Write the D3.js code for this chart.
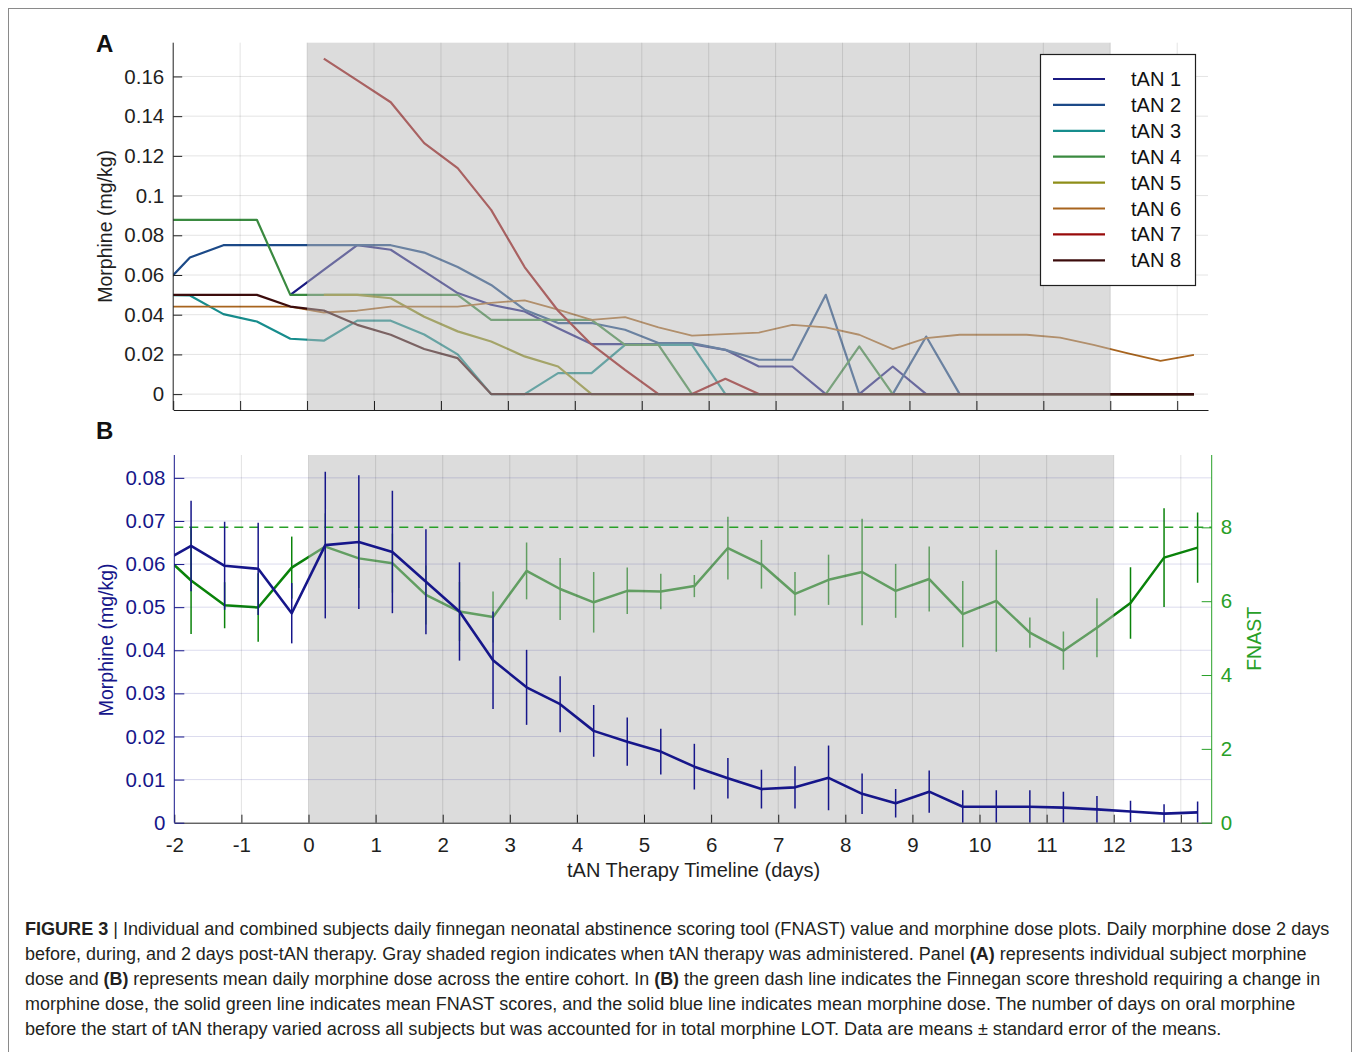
<!DOCTYPE html>
<html>
<head>
<meta charset="utf-8">
<script src="https://cdn.jsdelivr.net/npm/d3@7"></script>
<style>
  body { margin: 0; background: #fff; }
  svg { display: block; font-family: 'Liberation Sans', Arial, Helvetica, sans-serif; }
</style>
</head>
<body>
<script>
// half-day sample points (first one sits left of the axis and gets clipped)
const days = [-2.25, -1.75, -1.25, -0.75, -0.25, 0.25, 0.75, 1.25, 1.75, 2.25, 2.75, 3.25,
  3.75, 4.25, 4.75, 5.25, 5.75, 6.25, 6.75, 7.25, 7.75, 8.25, 8.75, 9.25, 9.75, 10.25,
  10.75, 11.25, 11.75, 12.25, 12.75, 13.25];
const dayTicks = [-2, -1, 0, 1, 2, 3, 4, 5, 6, 7, 8, 9, 10, 11, 12, 13];
const dayTickLabels = ['-2', '-1', '0', '1', '2', '3', '4', '5', '6', '7', '8', '9', '10', '11', '12', '13'];
const therapyStart = 0;
const therapyEnd = 12;

// panel A: individual subjects, morphine (mg/kg)
const subjects = ['tAN 1', 'tAN 2', 'tAN 3', 'tAN 4', 'tAN 5', 'tAN 6', 'tAN 7', 'tAN 8'];
const tan1 = [null, null, null, null, 0.050, 0.0626, 0.075, 0.0727, 0.0618, 0.0509, 0.045, 0.0416,
  0.0332, 0.0252, 0.0252, 0.0252, 0.0252, 0.0223, 0.0139, 0.0139, 0, 0, 0.0139, 0,
  0, 0, 0, 0, 0, 0, 0, 0];
const tan2 = [0.051, 0.0688, 0.075, 0.075, 0.075, 0.075, 0.075, 0.075, 0.0713, 0.064, 0.055, 0.0425,
  0.0358, 0.0358, 0.0324, 0.0257, 0.0257, 0.0223, 0.0173, 0.0173, 0.050, 0, 0, 0.029,
  0, 0, 0, 0, 0, 0, 0, 0];
const tan3 = [0.050, 0.0497, 0.0403, 0.0366, 0.0279, 0.0269, 0.037, 0.037, 0.030, 0.020, 0, 0,
  0.0106, 0.0106, 0.0248, 0.0248, 0.0248, 0, 0, 0, 0, 0, 0, 0,
  0, 0, 0, 0, 0, 0, 0, 0];
const tan4 = [0.0878, 0.0878, 0.0878, 0.0878, 0.050, 0.050, 0.050, 0.050, 0.050, 0.050, 0.0374, 0.0374,
  0.0374, 0.0374, 0.0248, 0.0248, 0, 0, 0, 0, 0, 0.024, 0, 0,
  0, 0, 0, 0, 0, 0, 0, 0];
const tan5 = [null, null, null, null, null, 0.050, 0.050, 0.0483, 0.039, 0.0316, 0.0265, 0.019,
  0.0139, 0, 0, 0, 0, 0, 0, 0, 0, 0, 0, 0,
  0, 0, 0, 0, 0, 0, 0, 0];
const tan6 = [0.0441, 0.0441, 0.0441, 0.0441, 0.0441, 0.0411, 0.042, 0.0441, 0.0441, 0.0441, 0.046, 0.0472,
  0.0425, 0.0374, 0.0388, 0.0336, 0.0295, 0.0302, 0.031, 0.0349, 0.0336, 0.0299, 0.0227, 0.0282,
  0.0299, 0.0299, 0.0299, 0.0285, 0.0248, 0.0207, 0.0168, 0.0198];
const tan7 = [null, null, null, null, null, 0.169, 0.158, 0.147, 0.1264, 0.1138, 0.0928, 0.064,
  0.042, 0.025, 0.0122, 0, 0, 0.0077, 0, 0, 0, 0, 0, 0,
  0, 0, 0, 0, 0, 0, 0, 0];
const tan8 = [0.050, 0.050, 0.050, 0.050, 0.0441, 0.0421, 0.0349, 0.0299, 0.0227, 0.0181, 0, 0,
  0, 0, 0, 0, 0, 0, 0, 0, 0, 0, 0, 0,
  0, 0, 0, 0, 0, 0, 0, 0];
const doseTicksA = [0, 0.02, 0.04, 0.06, 0.08, 0.1, 0.12, 0.14, 0.16];
const doseTickLabelsA = ['0', '0.02', '0.04', '0.06', '0.08', '0.1', '0.12', '0.14', '0.16'];

// panel B: cohort means +/- SEM
const meanDose = [0.0598, 0.0642, 0.0596, 0.0589, 0.0486, 0.0644, 0.0651, 0.0628, 0.0559, 0.049, 0.0377, 0.0314,
  0.0275, 0.0213, 0.0188, 0.0165, 0.013, 0.0103, 0.0078, 0.0082, 0.0104, 0.0067, 0.0045, 0.0072,
  0.0037, 0.0037, 0.0037, 0.0035, 0.0031, 0.0026, 0.0021, 0.0024];
const doseErr = [0.010, 0.0105, 0.0102, 0.0107, 0.007, 0.017, 0.0155, 0.0142, 0.0122, 0.0114, 0.0113, 0.0087,
  0.0065, 0.006, 0.0056, 0.0053, 0.0053, 0.0047, 0.0045, 0.0049, 0.0075, 0.0047, 0.0033, 0.0049,
  0.0038, 0.0038, 0.0038, 0.0037, 0.0031, 0.0025, 0.0022, 0.0025];
const meanFnast = [7.4, 6.56, 5.89, 5.83, 6.91, 7.48, 7.16, 7.03, 6.17, 5.72, 5.57, 6.82,
  6.33, 5.97, 6.28, 6.26, 6.41, 7.44, 7.0, 6.2, 6.58, 6.79, 6.28, 6.6,
  5.65, 6.01, 5.15, 4.66, 5.28, 5.95, 7.18, 7.45];
const fnastErr = [1.0, 1.45, 0.62, 0.93, 0.84, 0.9, 0.8, 0.8, 0.8, 0.8, 0.69, 0.77,
  0.84, 0.82, 0.63, 0.48, 0.3, 0.85, 0.66, 0.59, 0.68, 1.44, 0.73, 0.88,
  0.9, 1.38, 0.41, 0.52, 0.8, 0.97, 1.34, 0.95];
const fnastThreshold = 8;
const doseTicksB = [0, 0.01, 0.02, 0.03, 0.04, 0.05, 0.06, 0.07, 0.08];
const doseTickLabelsB = ['0', '0.01', '0.02', '0.03', '0.04', '0.05', '0.06', '0.07', '0.08'];
const fnastTicks = [0, 2, 4, 6, 8];
const fnastTickLabels = ['0', '2', '4', '6', '8'];

const captionLines = [
  [['FIGURE 3', true], [' | Individual and combined subjects daily finnegan neonatal abstinence scoring tool (FNAST) value and morphine dose plots. Daily morphine dose 2 days', false]],
  [['before, during, and 2 days post-tAN therapy. Gray shaded region indicates when tAN therapy was administered. Panel ', false], ['(A)', true], [' represents individual subject morphine', false]],
  [['dose and ', false], ['(B)', true], [' represents mean daily morphine dose across the entire cohort. In ', false], ['(B)', true], [' the green dash line indicates the Finnegan score threshold requiring a change in', false]],
  [['morphine dose, the solid green line indicates mean FNAST scores, and the solid blue line indicates mean morphine dose. The number of days on oral morphine', false]],
  [['before the start of tAN therapy varied across all subjects but was accounted for in total morphine LOT. Data are means \u00b1 standard error of the means.', false]]
];
const captionEnds = [1331, 1307, 1321, 1296, 1222];

const seriesA = [tan1, tan2, tan3, tan4, tan5, tan6, tan7, tan8];
const colorsA = ['#1b1b82', '#1c4a88', '#178d8d', '#3a8a40', '#8e8e18', '#a8641e', '#980a0a', '#3c0c0c'];
const axisGray = '#1f1f1f';
const navy = '#16168a';
const green = '#0a830a';
const greenAxis = '#28a028';
const shade = '#b9b9b9';
const tickFont = 20.5;

const svg = d3.select('body').append('svg')
  .attr('width', 1354)
  .attr('height', 1052);

svg.append('rect').attr('width', 1354).attr('height', 1052).attr('fill', 'white');
svg.append('rect')
  .attr('x', 8.5).attr('y', 8.5)
  .attr('width', 1343).attr('height', 1060)
  .attr('fill', 'none').attr('stroke', '#8a8a8a').attr('stroke-width', 1);

const defs = svg.append('defs');

// ---------- Panel A ----------
const A = { left: 173.2, right: 1208, top: 42.7, bottom: 410 };
const xA = d3.scaleLinear().domain([-2, 13.46]).range([A.left, A.right]);
const yA = d3.scaleLinear().domain([-0.008, 0.177]).range([A.bottom, A.top]);

defs.append('clipPath').attr('id', 'clipA')
  .append('rect')
  .attr('x', A.left).attr('y', A.top)
  .attr('width', A.right - A.left).attr('height', A.bottom - A.top);

const gA = svg.append('g');

const lineA = d3.line()
  .defined(d => d[1] != null)
  .x(d => xA(d[0]))
  .y(d => yA(d[1]));

gA.append('g').attr('clip-path', 'url(#clipA)')
  .selectAll('path')
  .data(seriesA)
  .join('path')
  .attr('fill', 'none')
  .attr('stroke', (d, i) => colorsA[i])
  .attr('stroke-width', (d, i) => i === 5 ? 1.8 : 2.2)
  .attr('stroke-linejoin', 'round')
  .attr('d', s => lineA(days.map((d, j) => [d, s[j]])));

// shaded therapy window sits over the lines
gA.append('rect')
  .attr('x', xA(therapyStart))
  .attr('y', A.top)
  .attr('width', xA(therapyEnd) - xA(therapyStart))
  .attr('height', A.bottom - A.top)
  .attr('fill', shade)
  .attr('fill-opacity', 0.5);

// grid
gA.append('g')
  .selectAll('line')
  .data(dayTicks.slice(1))
  .join('line')
  .attr('x1', d => xA(d)).attr('x2', d => xA(d))
  .attr('y1', A.top).attr('y2', A.bottom)
  .attr('stroke', axisGray).attr('stroke-opacity', 0.12);
gA.append('g')
  .selectAll('line')
  .data(doseTicksA)
  .join('line')
  .attr('x1', A.left).attr('x2', A.right)
  .attr('y1', d => yA(d)).attr('y2', d => yA(d))
  .attr('stroke', axisGray).attr('stroke-opacity', 0.12);

function styleAxis(sel, color) {
  sel.attr('font-size', tickFont)
    .attr('font-family', "'Liberation Sans', Arial, Helvetica, sans-serif");
  sel.selectAll('path, line').attr('stroke', color);
  sel.selectAll('text').attr('fill', color);
}

gA.append('g')
  .attr('transform', `translate(${A.left},0)`)
  .call(d3.axisLeft(yA)
    .tickValues(doseTicksA)
    .tickFormat((d, i) => doseTickLabelsA[i])
    .tickSizeInner(-9)
    .tickSizeOuter(0)
    .tickPadding(9))
  .call(g => styleAxis(g, axisGray))
  .call(g => g.select('.domain').attr('d', `M0,${A.bottom}V${A.top}`));

gA.append('g')
  .attr('transform', `translate(0,${A.bottom})`)
  .call(d3.axisBottom(xA)
    .tickValues(dayTicks)
    .tickFormat('')
    .tickSizeInner(-9)
    .tickSizeOuter(0))
  .call(g => styleAxis(g, axisGray));

gA.append('text')
  .attr('transform', `translate(111.5,${(A.top + A.bottom) / 2})rotate(-90)`)
  .attr('text-anchor', 'middle')
  .attr('font-size', 19.5)
  .attr('fill', axisGray)
  .text('Morphine (mg/kg)');

svg.append('text')
  .attr('x', 96).attr('y', 52)
  .attr('font-size', 24).attr('font-weight', 'bold')
  .attr('fill', '#111')
  .text('A');

// legend
const legendBox = { x: 1040.5, y: 54.5, w: 155, h: 231 };
const legend = gA.append('g');
legend.append('rect')
  .attr('x', legendBox.x).attr('y', legendBox.y)
  .attr('width', legendBox.w).attr('height', legendBox.h)
  .attr('fill', 'white').attr('stroke', axisGray).attr('stroke-width', 1.2);
const legendRows = legend.selectAll('g.row')
  .data(subjects)
  .join('g')
  .attr('class', 'row')
  .attr('transform', (d, i) => `translate(0,${79 + i * 25.9})`);
legendRows.append('line')
  .attr('x1', 1053).attr('x2', 1105)
  .attr('stroke', (d, i) => colorsA[i])
  .attr('stroke-width', (d, i) => i === 5 ? 1.8 : 2.2);
legendRows.append('text')
  .attr('x', 1131).attr('y', 7)
  .attr('font-size', 20)
  .attr('fill', '#111')
  .text(d => d);

// ---------- Panel B ----------
const B = { left: 174.3, right: 1211.7, top: 455, bottom: 822.7 };
const xB = d3.scaleLinear().domain([-2, 13.46]).range([B.left, B.right]);
const yB = d3.scaleLinear().domain([0, 0.0853]).range([B.bottom, B.top]);
const yF = d3.scaleLinear().domain([0, 9.96]).range([B.bottom, B.top]);

defs.append('clipPath').attr('id', 'clipB')
  .append('rect')
  .attr('x', B.left).attr('y', B.top)
  .attr('width', B.right - B.left).attr('height', B.bottom - B.top);

const gB = svg.append('g');

const fnastPts = days.map((d, i) => ({ x: d, v: meanFnast[i], e: fnastErr[i] }));
const dosePts = days.map((d, i) => ({ x: d, v: meanDose[i], e: doseErr[i] }));

// FNAST mean (drawn under the shading)
const fnastLayer = gB.append('g').attr('clip-path', 'url(#clipB)');
fnastLayer.append('path')
  .datum(fnastPts)
  .attr('fill', 'none')
  .attr('stroke', green)
  .attr('stroke-width', 2.5)
  .attr('stroke-linejoin', 'round')
  .attr('d', d3.line().x(d => xB(d.x)).y(d => yF(d.v)));
fnastLayer.selectAll('line')
  .data(fnastPts)
  .join('line')
  .attr('x1', d => xB(d.x)).attr('x2', d => xB(d.x))
  .attr('y1', d => yF(d.v - d.e)).attr('y2', d => yF(d.v + d.e))
  .attr('stroke', green).attr('stroke-width', 1.5);

gB.append('rect')
  .attr('x', xB(therapyStart))
  .attr('y', B.top)
  .attr('width', xB(therapyEnd) - xB(therapyStart))
  .attr('height', B.bottom - B.top)
  .attr('fill', shade)
  .attr('fill-opacity', 0.5);

// grid
gB.append('g')
  .selectAll('line')
  .data(dayTicks.slice(1))
  .join('line')
  .attr('x1', d => xB(d)).attr('x2', d => xB(d))
  .attr('y1', B.top).attr('y2', B.bottom)
  .attr('stroke', axisGray).attr('stroke-opacity', 0.13);
gB.append('g')
  .selectAll('line')
  .data(doseTicksB.slice(1))
  .join('line')
  .attr('x1', B.left).attr('x2', B.right)
  .attr('y1', d => yB(d)).attr('y2', d => yB(d))
  .attr('stroke', navy).attr('stroke-opacity', 0.15);

// threshold
gB.append('line')
  .attr('x1', B.left).attr('x2', B.right)
  .attr('y1', yF(fnastThreshold)).attr('y2', yF(fnastThreshold))
  .attr('stroke', greenAxis)
  .attr('stroke-width', 1.5)
  .attr('stroke-dasharray', '9,6');

// morphine mean on top
const doseLayer = gB.append('g').attr('clip-path', 'url(#clipB)');
doseLayer.append('path')
  .datum(dosePts)
  .attr('fill', 'none')
  .attr('stroke', navy)
  .attr('stroke-width', 2.6)
  .attr('stroke-linejoin', 'round')
  .attr('d', d3.line().x(d => xB(d.x)).y(d => yB(d.v)));
doseLayer.selectAll('line')
  .data(dosePts)
  .join('line')
  .attr('x1', d => xB(d.x)).attr('x2', d => xB(d.x))
  .attr('y1', d => yB(Math.max(0, d.v - d.e))).attr('y2', d => yB(d.v + d.e))
  .attr('stroke', navy).attr('stroke-width', 1.5);

// axes
gB.append('g')
  .attr('transform', `translate(0,${B.bottom})`)
  .call(d3.axisBottom(xB)
    .tickValues(dayTicks)
    .tickFormat((d, i) => dayTickLabels[i])
    .tickSizeInner(-8)
    .tickSizeOuter(0)
    .tickPadding(15))
  .call(g => styleAxis(g, axisGray));

gB.append('g')
  .attr('transform', `translate(${B.left},0)`)
  .call(d3.axisLeft(yB)
    .tickValues(doseTicksB)
    .tickFormat((d, i) => doseTickLabelsB[i])
    .tickSizeInner(-10)
    .tickSizeOuter(0)
    .tickPadding(9))
  .call(g => styleAxis(g, navy))
  .call(g => g.select('.domain').attr('d', `M0,${B.bottom}V${B.top}`));

gB.append('g')
  .attr('transform', `translate(${B.right},0)`)
  .call(d3.axisRight(yF)
    .tickValues(fnastTicks)
    .tickFormat((d, i) => fnastTickLabels[i])
    .tickSizeInner(-10)
    .tickSizeOuter(0)
    .tickPadding(9))
  .call(g => styleAxis(g, greenAxis))
  .call(g => g.select('.domain').attr('d', `M0,${B.bottom}V${B.top}`));

gB.append('text')
  .attr('transform', `translate(112.5,${(B.top + B.bottom) / 2 + 1})rotate(-90)`)
  .attr('text-anchor', 'middle')
  .attr('font-size', 19.5)
  .attr('fill', navy)
  .text('Morphine (mg/kg)');

gB.append('text')
  .attr('transform', `translate(1261,${(B.top + B.bottom) / 2})rotate(-90)`)
  .attr('text-anchor', 'middle')
  .attr('font-size', 19.5)
  .attr('fill', greenAxis)
  .text('FNAST');

gB.append('text')
  .attr('x', (xB(-2) + xB(13)) / 2 + 16)
  .attr('y', 877)
  .attr('text-anchor', 'middle')
  .attr('font-size', 20)
  .attr('fill', axisGray)
  .text('tAN Therapy Timeline (days)');

svg.append('text')
  .attr('x', 96).attr('y', 439)
  .attr('font-size', 24).attr('font-weight', 'bold')
  .attr('fill', '#111')
  .text('B');

// ---------- Caption ----------
captionLines.forEach((segs, i) => {
  const y = 935 + i * 25;
  const t = svg.append('text')
    .attr('x', 0).attr('y', 0)
    .attr('font-size', 18.5)
    .attr('fill', '#231f20');
  segs.forEach(([str, bold]) => {
    t.append('tspan')
      .attr('font-weight', bold ? 'bold' : 'normal')
      .text(str);
  });
  const w = t.node().getComputedTextLength();
  const s = (captionEnds[i] - 25) / w;
  t.attr('transform', `translate(25,${y})scale(${s},1)`);
});
</script>
</body>
</html>
